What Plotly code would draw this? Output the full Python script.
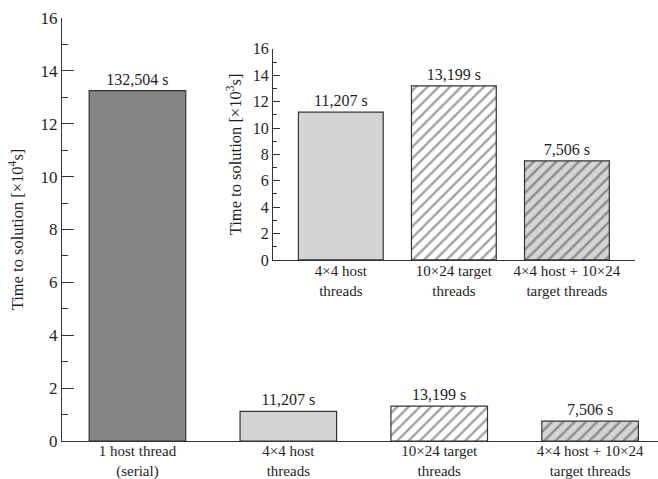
import plotly.graph_objects as go

# Run configurations and their measured wall-clock times (seconds)
configs = ["1 host thread<br>(serial)", "4×4 host<br>threads",
           "10×24 target<br>threads", "4×4 host + 10×24<br>target threads"]
times_s = [132504, 11207, 13199, 7506]

# Inset shows only the parallel runs
inset_configs = configs[1:]
inset_times_s = times_s[1:]

main_ticks = [0, 2, 4, 6, 8, 10, 12, 14, 16]
inset_ticks = [0, 2, 4, 6, 8, 10, 12, 14, 16]

fill_colors = ["#858585", "#d4d4d4", "#ffffff", "#d4d4d4"]
hatch_shapes = ["", "", "/", "/"]

FONT = "Liberation Serif"
INK = "#1e1e1e"

fig = go.Figure()

# Main panel: times in units of 10^4 s
fig.add_trace(go.Bar(
    x=configs,
    y=[t / 1e4 for t in times_s],
    width=0.64,
    text=[f"{t:,} s" for t in times_s],
    textposition="outside",
    constraintext="none",
    cliponaxis=False,
    textfont=dict(family=FONT, size=16, color=INK),
    marker=dict(
        color=fill_colors,
        line=dict(color="#333333", width=1.2),
        pattern=dict(shape=hatch_shapes, fillmode="overlay", fgcolor="#000000",
                     size=8, solidity=0.3),
    ),
    xaxis="x", yaxis="y",
    hoverinfo="skip",
))

# Inset panel: times in units of 10^3 s
fig.add_trace(go.Bar(
    x=inset_configs,
    y=[t / 1e3 for t in inset_times_s],
    width=0.75,
    text=[f"{t:,} s" for t in inset_times_s],
    textposition="outside",
    constraintext="none",
    cliponaxis=False,
    textfont=dict(family=FONT, size=16, color=INK),
    marker=dict(
        color=fill_colors[1:],
        line=dict(color="#333333", width=1.2),
        pattern=dict(shape=hatch_shapes[1:], fillmode="overlay", fgcolor="#000000",
                     size=8, solidity=0.3),
    ),
    xaxis="x2", yaxis="y2",
    hoverinfo="skip",
))

axis_common = dict(showgrid=False, zeroline=False, showline=True,
                   linecolor="#333333", linewidth=1.2, automargin=False)

fig.update_layout(
    width=658, height=479,
    margin=dict(l=62, r=0, t=18, b=38),
    paper_bgcolor="white", plot_bgcolor="rgba(0,0,0,0)",
    showlegend=False,
    font=dict(family=FONT, color=INK),
    xaxis=dict(
        **axis_common, domain=[0, 1], range=[-0.5, 3.45],
        ticks="", ticklabelstandoff=-4,
        tickfont=dict(size=15, family=FONT, color=INK),
        anchor="y",
    ),
    yaxis=dict(
        **axis_common, domain=[0, 1], range=[0, 16],
        tickvals=main_ticks, ticks="inside", ticklen=12, tickwidth=1.2,
        tickcolor="#333333",
        minor=dict(ticks="inside", dtick=1, ticklen=6, tickwidth=1, tickcolor="#333333"),
        tickfont=dict(size=17, family=FONT, color=INK),
        title=dict(text="Time to solution [×10<sup>4</sup>s]",
                   font=dict(size=16.5, family=FONT, color=INK), standoff=12),
        anchor="x",
    ),
    xaxis2=dict(
        **axis_common, domain=[0.354, 0.961], range=[-0.6, 2.6],
        ticks="", ticklabelstandoff=-3,
        tickfont=dict(size=15, family=FONT, color=INK),
        anchor="y2",
    ),
    yaxis2=dict(
        **axis_common, domain=[0.428, 0.927], range=[0, 16],
        tickvals=inset_ticks, ticks="inside", ticklen=7, tickwidth=1.2,
        tickcolor="#333333",
        minor=dict(ticks="inside", dtick=1, ticklen=4, tickwidth=1, tickcolor="#333333"),
        tickfont=dict(size=16, family=FONT, color=INK),
        title=dict(text="Time to solution [×10<sup>3</sup>s]",
                   font=dict(size=16.5, family=FONT, color=INK), standoff=6),
        anchor="x2",
    ),
)

fig.write_html("out.html")
